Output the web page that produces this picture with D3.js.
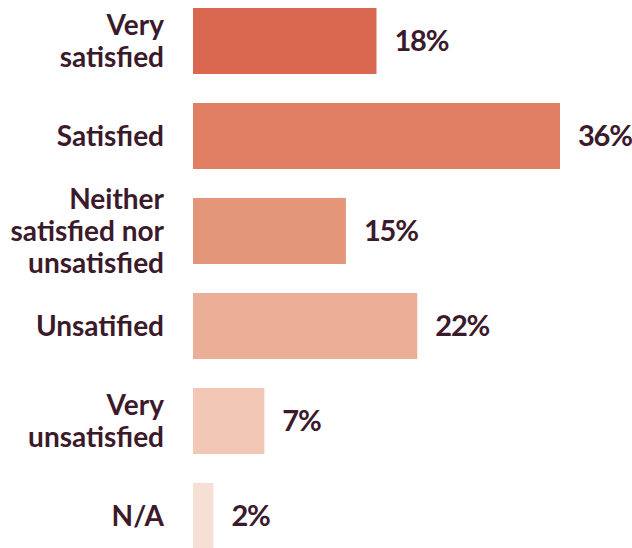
<!DOCTYPE html>
<html>
<head>
<meta charset="utf-8">
<script src="https://cdn.jsdelivr.net/npm/d3@7"></script>
<style>
  html, body { margin: 0; padding: 0; background: #ffffff; }
  svg { display: block; }
</style>
</head>
<body>
<svg id="chart" width="632" height="548"></svg>
<script>
// Survey responses: satisfaction level and share of respondents (%)
const categories = [
  ["Very", "satisfied"],
  ["Satisfied"],
  ["Neither", "satisfied nor", "unsatisfied"],
  ["Unsatified"],
  ["Very", "unsatisfied"],
  ["N/A"]
];
const values = [18, 36, 15, 22, 7, 2];
const valueLabels = ["18%", "36%", "15%", "22%", "7%", "2%"];
const barColors = ["#da6850", "#e07f63", "#e4967b", "#ebae96", "#f2c7b6", "#f6e0d5"];

const svg = d3.select("#chart");
const textColor = "#3b1a2c";
const fontFamily = "Lato, 'Open Sans', sans-serif";

const ids = d3.range(values.length);

const x = d3.scaleLinear()
  .domain([0, 36])
  .range([193, 560]);

const y = d3.scaleBand()
  .domain(ids)
  .range([8, 549])
  .paddingInner(0.305)
  .paddingOuter(0);

// bars
svg.selectAll("rect.bar")
  .data(ids)
  .join("rect")
  .attr("class", "bar")
  .attr("x", x(0))
  .attr("y", i => y(i))
  .attr("width", i => x(values[i]) - x(0))
  .attr("height", y.bandwidth())
  .attr("fill", i => barColors[i]);

// value labels
svg.selectAll("text.value")
  .data(ids)
  .join("text")
  .attr("class", "value")
  .attr("x", i => x(values[i]) + 18)
  .attr("y", i => y(i) + y.bandwidth() / 2)
  .attr("dy", "0.36em")
  .attr("fill", textColor)
  .attr("font-family", fontFamily)
  .attr("font-weight", 700)
  .attr("font-size", 29)
  .attr("letter-spacing", -1.2)
  .text(i => valueLabels[i]);

// category labels, right aligned, multi-line
const lineHeight = 32;
const catLabels = svg.selectAll("text.cat")
  .data(ids)
  .join("text")
  .attr("class", "cat")
  .attr("text-anchor", "end")
  .attr("fill", textColor)
  .attr("font-family", fontFamily)
  .attr("font-weight", 700)
  .attr("font-size", 28)
  .attr("transform", i => `translate(164,${y(i) + y.bandwidth() / 2})`);

catLabels.selectAll("tspan")
  .data(i => categories[i].map((t, k, arr) => ({ t, k, n: arr.length })))
  .join("tspan")
  .attr("x", 0)
  .attr("y", d => (d.k - (d.n - 1) / 2) * lineHeight)
  .attr("dy", "0.36em")
  .text(d => d.t);
</script>
</body>
</html>
